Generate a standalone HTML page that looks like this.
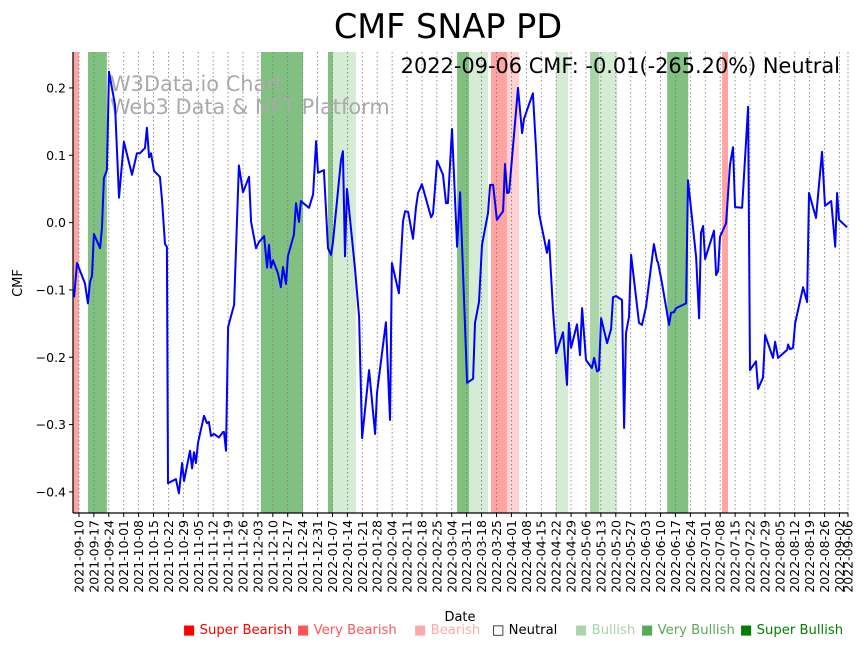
<!DOCTYPE html>
<html><head><meta charset="utf-8">
<style>
html,body{margin:0;padding:0;background:#fff;}
svg{display:block;font-family:"Liberation Sans","DejaVu Sans",sans-serif;}
</style></head>
<body>
<svg id="chart" width="867" height="646" viewBox="0 0 867 646" xmlns="http://www.w3.org/2000/svg">
  <text x="448" y="38" text-anchor="middle" font-size="33.5" font-family="DejaVu Sans, sans-serif">CMF SNAP PD</text>
  <g id="bands"></g>
  <g id="grid"></g>
  <g id="yaxis"></g>
  <g id="xaxis"></g>
  <text x="110" y="91" font-size="20.9" fill="#aaa" font-family="DejaVu Sans, sans-serif">W3Data.io Chart</text>
  <text x="110" y="114" font-size="20.9" fill="#aaa" font-family="DejaVu Sans, sans-serif">Web3 Data &amp; NFT Platform</text>
  <path id="line" fill="none" stroke="#0000ff" stroke-width="2" stroke-linejoin="round"></path>
  <text x="840" y="73" text-anchor="end" font-size="20.9" font-family="DejaVu Sans, sans-serif">2022-09-06 CMF: -0.01(-265.20%) Neutral</text>
  <text x="22" y="283" text-anchor="middle" font-size="13" transform="rotate(-90 22 283)" font-family="DejaVu Sans, sans-serif">CMF</text>
  <text x="460" y="621" text-anchor="middle" font-size="13" font-family="DejaVu Sans, sans-serif">Date</text>
  <g font-size="13.2" font-family="DejaVu Sans, sans-serif">
    <text x="183" y="634" fill="#ff0000">■ Super Bearish</text>
    <text x="297" y="634" fill="#ff5555">■ Very Bearish</text>
    <text x="414" y="634" fill="#ffaaaa">■ Bearish</text>
    <text x="492" y="634" fill="#000">□ Neutral</text>
    <text x="575" y="634" fill="#aad4aa">■ Bullish</text>
    <text x="641" y="634" fill="#55aa55">■ Very Bullish</text>
    <text x="740" y="634" fill="#008000">■ Super Bullish</text>
  </g>
</svg>
<script>
// day offsets from 2021-09-10
const days = [-2.3,-0.9,2.8,4.2,5.2,6.1,7.0,9.9,10.8,11.7,13.1,14.1,16.9,18.8,21.1,24.9,27.2,28.6,31.0,31.9,32.9,33.8,35.2,38.0,39.0,40.4,41.3,41.8,45.5,46.9,48.4,49.3,52.1,53.1,54.0,54.9,55.9,58.7,60.1,61.0,62.0,63.4,65.7,67.6,68.1,69.0,70.0,72.8,75.1,77.0,79.8,80.8,83.1,84.5,86.9,88.3,89.2,90.1,91.1,93.4,94.8,95.8,97.2,98.1,100.9,101.9,103.3,104.2,108.0,109.9,111.3,112.2,115.0,116.9,118.3,119.2,123.0,123.9,124.9,125.8,129.6,131.5,132.9,136.2,139.0,139.9,144.1,146.0,146.9,150.2,152.1,153.1,154.5,156.8,158.2,159.2,161.0,165.3,166.2,168.1,170.9,172.3,173.2,175.1,177.5,178.9,182.2,185.0,185.9,187.8,189.2,192.0,193.0,194.4,196.2,199.1,200.0,201.0,201.9,206.1,208.0,208.9,213.1,214.6,216.0,219.7,220.7,222.5,224.0,227.2,229.1,230.0,231.0,233.8,235.2,236.2,238.0,240.8,241.8,243.2,244.1,245.1,247.9,249.8,250.7,252.1,254.9,255.9,256.8,258.2,259.2,262.9,264.3,266.2,269.9,271.4,271.8,273.7,277.0,277.9,279.3,280.3,285.0,285.9,289.7,291.1,292.0,293.0,293.9,298.1,299.1,300.0,300.9,303.8,305.6,307.0,308.0,311.3,314.1,315.0,317.8,318.8,321.1,322.1,325.8,326.8,328.2,332.4,332.9,333.8,335.2,336.2,339.9,341.8,342.7,346.0,348.8,350.2,353.1,355.0,355.9,356.8,360.6];
const cmfValues = [-0.111,-0.060,-0.090,-0.120,-0.088,-0.079,-0.017,-0.038,-0.007,0.066,0.078,0.224,0.175,0.037,0.120,0.071,0.103,0.103,0.111,0.141,0.097,0.103,0.077,0.068,0.034,-0.032,-0.036,-0.387,-0.381,-0.402,-0.357,-0.384,-0.339,-0.365,-0.341,-0.357,-0.327,-0.287,-0.298,-0.296,-0.317,-0.314,-0.319,-0.311,-0.311,-0.339,-0.155,-0.122,0.085,0.045,0.068,0.001,-0.038,-0.029,-0.020,-0.067,-0.033,-0.067,-0.056,-0.075,-0.096,-0.066,-0.091,-0.050,-0.018,0.029,0.001,0.032,0.022,0.042,0.121,0.074,0.078,-0.038,-0.048,-0.030,0.093,0.106,-0.050,0.050,-0.070,-0.140,-0.320,-0.219,-0.314,-0.253,-0.148,-0.293,-0.060,-0.105,0.002,0.017,0.016,-0.024,0.023,0.044,0.057,0.008,0.013,0.092,0.071,0.029,0.029,0.139,-0.036,0.045,-0.238,-0.232,-0.149,-0.118,-0.033,0.014,0.056,0.056,0.004,0.017,0.087,0.044,0.045,0.200,0.133,0.154,0.192,0.108,0.013,-0.045,-0.026,-0.130,-0.194,-0.163,-0.241,-0.149,-0.186,-0.151,-0.197,-0.127,-0.204,-0.216,-0.201,-0.221,-0.219,-0.142,-0.179,-0.158,-0.111,-0.109,-0.115,-0.305,-0.164,-0.140,-0.048,-0.149,-0.152,-0.125,-0.032,-0.057,-0.059,-0.090,-0.152,-0.134,-0.133,-0.127,-0.120,0.063,-0.051,-0.142,-0.015,-0.005,-0.054,-0.012,-0.078,-0.072,-0.021,-0.001,0.086,0.112,0.023,0.022,0.172,-0.219,-0.206,-0.247,-0.230,-0.167,-0.201,-0.177,-0.201,-0.189,-0.181,-0.188,-0.186,-0.149,-0.096,-0.118,0.044,0.007,0.105,0.025,0.032,-0.036,0.044,0.004,-0.007];
const bandStarts = [-2.8,4.2,85.4,116.9,119.2,177.5,183.1,193.4,200.9,223.9,239.9,244.1,276.1,301.9];
const bandEnds   = [0.0,13.1,105.2,119.2,130.0,183.1,192.0,200.9,206.6,229.6,244.1,252.6,286.0,304.7];
const bandKinds  = ["very-bearish","very-bullish","very-bullish","very-bullish","bullish","very-bullish","bullish","very-bearish","bearish","bullish","mid-bullish","bullish","very-bullish","very-bearish"];
const yTicks = [0.2,0.1,0.0,-0.1,-0.2,-0.3,-0.4];
const yTickLabels = ["0.2","0.1","0.0","\u22120.1","\u22120.2","\u22120.3","\u22120.4"];

const NS="http://www.w3.org/2000/svg";
const L=73,R=848,T=52,B=513;
const dMin=-2.8,dMax=361;
const X=d=>L+(d-dMin)/(dMax-dMin)*(R-L);
const Y=v=>222.6-v*673.3;
const bandColor={"very-bearish":"#ffa3a3","bearish":"#ffd1d1","very-bullish":"#80c080","bullish":"#d4ebd4","mid-bullish":"#aad6aa"};
function mk(tag,attrs,parent){const e=document.createElementNS(NS,tag);for(const k in attrs)e.setAttribute(k,attrs[k]);parent.appendChild(e);return e;}

const gb=document.getElementById('bands');
bandStarts.forEach((s,i)=>{
  const r=mk('rect',{x:X(s),y:T,width:X(bandEnds[i])-X(s),height:B-T,fill:bandColor[bandKinds[i]]},gb);
  
  
});

const start=new Date(Date.UTC(2021,8,10));
const tickDays=[];for(let d=0;d<=357;d+=7)tickDays.push(d);tickDays.push(361);
const fmt=d=>{const t=new Date(start.getTime()+d*86400000);return t.toISOString().slice(0,10);};
const gg=document.getElementById('grid'),gx=document.getElementById('xaxis');
tickDays.forEach(d=>{
  const x=X(d);
  const gl=mk('line',{x1:x,x2:x,y1:T,y2:B,stroke:'#777','stroke-width':0.8,'stroke-dasharray':'1.5,2.5'},gg);
  
  
  mk('line',{x1:x,x2:x,y1:B,y2:B+4,stroke:'#000','stroke-width':1},gx);
  const t=mk('text',{x:x+4.5,y:B+7,'font-size':12.5,'text-anchor':'end',transform:`rotate(-90 ${x+4.5} ${B+7})`,'font-family':'DejaVu Sans, sans-serif'},gx);
  
  
  t.textContent=fmt(d);
});
mk('line',{x1:L,x2:R,y1:B,y2:B,stroke:'#000','stroke-width':1.2},gx);

const gy=document.getElementById('yaxis');
yTicks.forEach((v,i)=>{
  const y=Y(v);
  mk('line',{x1:L-4,x2:L,y1:y,y2:y,stroke:'#000'},gy);
  const t=mk('text',{x:L-7,y:y+4.5,'font-size':12.5,'text-anchor':'end','font-family':'DejaVu Sans, sans-serif'},gy);
  
  
  t.textContent=yTickLabels[i];
});
mk('line',{x1:L,x2:L,y1:T,y2:B,stroke:'#000','stroke-width':1.2},gy);

let dstr='';
days.forEach((d,i)=>{dstr+=(i?'L':'M')+X(d).toFixed(1)+','+Y(cmfValues[i]).toFixed(1);});
document.getElementById('line').setAttribute('d',dstr);
</script>
</body></html>
